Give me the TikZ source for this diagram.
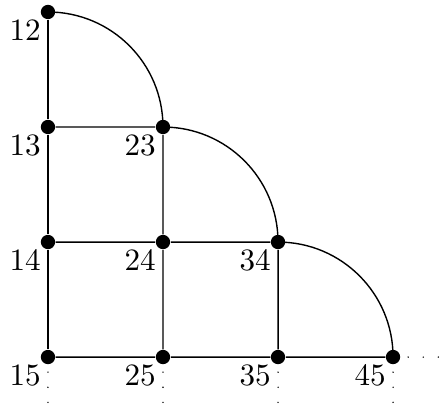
\documentclass[tikz,border=0pt]{standalone}
\usetikzlibrary{positioning}

\begin{document}
\begin{tikzpicture}[
    scale=1.3,
    vertex/.style={circle, fill=black, inner sep=0pt, minimum size=4.6pt,
                   label={[anchor=north east, inner sep=0.4pt]south west:#1}},
    edge/.style={line width=0.45pt},
    tail/.style={line width=0.5pt, line cap=round, dash pattern=on 0pt off 4.85pt}
  ]
    \useasboundingbox (-0.417,0.104) rectangle (3.417,-3.443);

    % Vertices
    \node[vertex=12] (n12) at (0,0) {};
    \node[vertex=13] (n13) at (0,-1) {};
    \node[vertex=14] (n14) at (0,-2) {};
    \node[vertex=15] (n15) at (0,-3) {};
    \node[vertex=23] (n23) at (1,-1) {};
    \node[vertex=24] (n24) at (1,-2) {};
    \node[vertex=25] (n25) at (1,-3) {};
    \node[vertex=34] (n34) at (2,-2) {};
    \node[vertex=35] (n35) at (2,-3) {};
    \node[vertex=45] (n45) at (3,-3) {};

    % Free ends of the dotted tails
    \coordinate (d15) at (0,-3.443);
    \coordinate (d25) at (1,-3.443);
    \coordinate (d35) at (2,-3.443);
    \coordinate (d45) at (3,-3.443);
    \coordinate (r45) at (3.417,-3);

    % Grid
    \draw[edge] (n12) -- (n13);
    \draw[edge] (n13) -- (n14);
    \draw[edge] (n14) -- (n15);
    \draw[edge] (n23) -- (n24);
    \draw[edge] (n24) -- (n25);
    \draw[edge] (n34) -- (n35);
    \draw[edge] (n13) -- (n23);
    \draw[edge] (n14) -- (n24);
    \draw[edge] (n24) -- (n34);
    \draw[edge] (n15) -- (n25);
    \draw[edge] (n25) -- (n35);
    \draw[edge] (n35) -- (n45);

    % Quarter arcs
    \draw[edge] (n12.center) arc[start angle=90, end angle=0, radius=1];
    \draw[edge] (n23.center) arc[start angle=90, end angle=0, radius=1];
    \draw[edge] (n34.center) arc[start angle=90, end angle=0, radius=1];

    % Dotted tails
    \draw[tail] (n15.center) -- (d15);
    \draw[tail] (n25.center) -- (d25);
    \draw[tail] (n35.center) -- (d35);
    \draw[tail] (n45.center) -- (d45);
    \draw[tail] (n45.center) -- (r45);
  \end{tikzpicture}
\end{document}
